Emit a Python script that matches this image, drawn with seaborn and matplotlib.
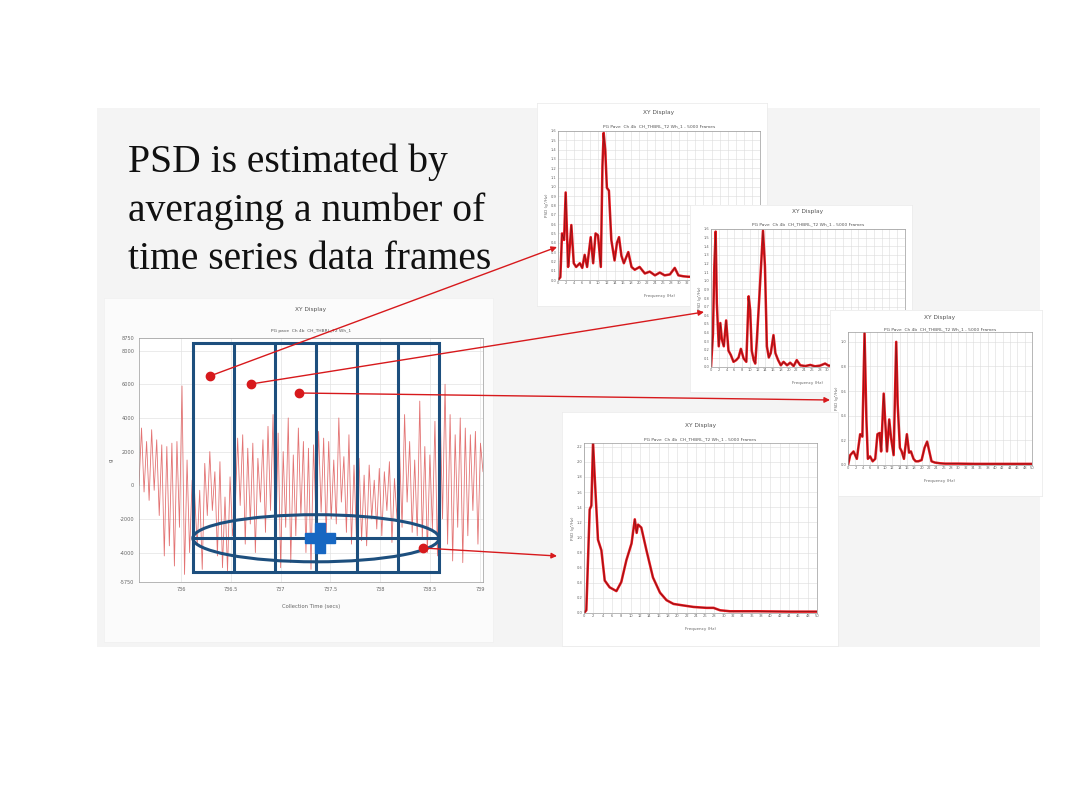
import numpy as np
import matplotlib
matplotlib.use("Agg")
import matplotlib.pyplot as plt
from matplotlib.patches import Rectangle, Ellipse
import seaborn as sns

# ---- data ----
# time series (peaks / troughs of the acceleration trace), sampled evenly between t_start and t_end
t_start, t_end = 735.58, 739.03
amplitude = [
    0, 3400, -400, 2600, -900, 3300, -300, 2700, -1800, 2400, -4200, 2300, -3600, 2500, -4800, 2600,
    -2500, 5900, -5300, 1500, -4000, 300,
    -500, -3600, -300, -5000, 1300, -1800, 2000, -1500, 800, -4200, 1400, -4900, -700, -5100, 500, -3000, -1500,
    2800, -1200, 3000, -3500, 2200, -2300, 2500, -4000, 1600, -1000, 2700, -2800, 3500, -1500, 4200, -4000,
    3100, -4900, 2000, -2500, 4000, -4600, 1800, -3000, 3400, -1800, 2600, -4000, 2200, -5000, 2400, -2200,
    3200, -1600, 2800, -3000, 2600, -2000, 1500, -2300, 4000, -1000, 1700, -2800, 3000, -3500, 1200, -3300,
    1600, -3300, 600, -3600, 1200, -2000, 300, -2600, 1000, -3000, 800, -1500, 1400, -3400, 400, -2000,
    2200, -2500, 4200, -1000, 2600, -2800, 1500, -3000, 5000, -3200, 2300, -4000, 1800, -2600, 3800, -4200,
    5000, -2000, 6000, -3500, 4200, -4500, 3000, -2500, 4000, -4600, 3400, -3000, 3000, -1500, 3200, -3500,
    2500, 800,
]
# data frame boundaries (s) drawn over the time series
frame_edges = [736.12, 736.53, 736.94, 737.36, 737.77, 738.18, 738.59]

# single-frame PSDs
psd1_freq = [0, 0.58, 1.0, 1.5, 1.9, 2.5, 2.9, 3.3, 3.9, 4.5, 5.4, 6.0, 6.6, 7.2, 8.1, 8.7, 9.3, 9.9,
             10.6, 11.0, 11.3, 11.7, 12.1, 12.6, 13.2, 14.0, 14.6, 15.1, 15.7, 16.3, 17.4, 18.2, 19.0,
             20.2, 21.5, 22.7, 24.0, 25.2, 26.4, 27.7, 28.9, 29.8, 31.0, 32.2, 36, 40, 45, 50]
psd1_vals = [0, 0.03, 0.50, 0.43, 0.94, 0.14, 0.35, 0.59, 0.18, 0.14, 0.18, 0.13, 0.27, 0.14, 0.46, 0.18,
             0.50, 0.48, 0.14, 1.22, 1.58, 1.39, 0.99, 0.96, 0.43, 0.21, 0.40, 0.46, 0.26, 0.18, 0.30, 0.14,
             0.11, 0.14, 0.07, 0.09, 0.05, 0.08, 0.05, 0.06, 0.13, 0.05, 0.04, 0.035, 0.03, 0.03, 0.03, 0.03]

psd2_freq = [0, 0.5, 0.86, 1.2, 1.5, 2.0, 2.4, 2.8, 3.3, 3.9, 4.5, 5.1, 5.8, 6.5, 7.1, 7.7, 8.4, 9.1, 9.7,
             10.1, 10.5, 11.0, 11.4, 11.8, 12.3, 12.9, 13.4, 13.9, 14.4, 14.9, 15.4, 16.1, 16.6, 17.3, 18.0,
             18.7, 19.6, 20.4, 21.3, 22.1, 23.0, 24.3, 25.6, 26.8, 28.1, 29.4, 30.3, 35, 40, 45, 50]
psd2_vals = [0, 0.38, 1.17, 1.57, 0.74, 0.24, 0.51, 0.32, 0.24, 0.54, 0.19, 0.14, 0.06, 0.08, 0.11, 0.21,
             0.10, 0.06, 0.82, 0.66, 0.19, 0.08, 0.04, 0.30, 0.69, 1.17, 1.58, 1.17, 0.24, 0.11, 0.16, 0.37,
             0.16, 0.08, 0.02, 0.06, 0.02, 0.05, 0.011, 0.08, 0.02, 0.011, 0.024, 0.008, 0.016, 0.04, 0.016,
             0.013, 0.013, 0.01, 0.01]

psd3_freq = [0, 0.6, 1.5, 2.4, 3.3, 3.9, 4.5, 5.0, 5.4, 6.0, 6.7, 7.4, 8.0, 8.6, 9.0, 9.7, 10.1, 10.6,
             11.2, 11.7, 12.4, 13.1, 13.5, 14.1, 14.6, 15.2, 16.0, 16.6, 17.1, 17.8, 18.4, 19.1, 20.0, 20.8,
             21.5, 22.1, 22.7, 23.6, 25.0, 26.4, 30, 34.5, 39, 43.5, 48, 50]
psd3_vals = [0, 0.08, 0.11, 0.05, 0.25, 0.23, 1.07, 0.37, 0.05, 0.07, 0.03, 0.05, 0.25, 0.26, 0.11, 0.58,
             0.36, 0.11, 0.37, 0.22, 0.08, 1.0, 0.49, 0.14, 0.11, 0.05, 0.25, 0.10, 0.11, 0.05, 0.03, 0.03,
             0.04, 0.14, 0.19, 0.11, 0.03, 0.02, 0.014, 0.011, 0.011, 0.009, 0.009, 0.009, 0.009, 0.009]

# averaged PSD
psd_avg_freq = [0, 0.5, 1.22, 1.58, 1.94, 2.3, 3.0, 3.73, 4.45, 5.5, 6.96, 8.0, 9.1, 10.2, 10.9, 11.3,
                11.6, 12.3, 13.4, 14.8, 16.3, 17.7, 19.2, 21.3, 23.5, 26.3, 27.8, 29.2, 31.3, 37.1, 44.3, 50]
psd_avg_vals = [0, 0.036, 1.37, 1.42, 2.25, 1.8, 0.97, 0.83, 0.43, 0.34, 0.29, 0.41, 0.70, 0.92, 1.24,
                1.06, 1.17, 1.13, 0.83, 0.47, 0.27, 0.17, 0.12, 0.10, 0.08, 0.068, 0.068, 0.036, 0.023,
                0.023, 0.018, 0.018]

headline = ["PSD is estimated by", "averaging a number of", "time series data frames"]

W, H = 1080, 810
RED = "#d7191c"
NAVY = "#1d4f7e"

sns.set_theme(style="white")
plt.rcParams['font.family'] = ['DejaVu Sans']


def px_rect(x0, y0, x1, y1):
    return [x0 / W, 1 - y1 / H, (x1 - x0) / W, (y1 - y0) / H]


def add_card(fig, box, z, color="white", edge="#ececec"):
    c = fig.add_axes(px_rect(*box))
    c.set_facecolor(color)
    c.set_xticks([])
    c.set_yticks([])
    for s in c.spines.values():
        s.set_color(edge)
        s.set_linewidth(0.6)
    c.set_zorder(z)
    return c


def headers(ax, title, subtitle, t_off, s_off):
    ax.annotate(title, (0.5, 1), xycoords="axes fraction", xytext=(0, t_off * 0.72),
                textcoords="offset points", ha="center", va="center", fontsize=4.2, color="#555555")
    ax.annotate(subtitle, (0.5, 1), xycoords="axes fraction", xytext=(0, s_off * 0.72),
                textcoords="offset points", ha="center", va="center", fontsize=3.2, color="#555555")


def psd_panel(fig, box, z, freq, vals, ytop, ystep, t_off, s_off):
    ax = fig.add_axes(px_rect(*box))
    ax.set_zorder(z)
    ax.set_facecolor("white")
    sns.lineplot(x=freq, y=vals, ax=ax, color="#e8151c", lw=1.8, legend=False)
    sns.lineplot(x=freq, y=vals, ax=ax, color="#7d1518", lw=0.5, legend=False)
    ax.set_xlim(0, 50)
    ax.set_ylim(0, ytop)
    ax.set_xticks(np.arange(0, 51, 2))
    ax.set_yticks(np.arange(0, ytop + 1e-9, ystep))
    ax.set_xticklabels([str(v) for v in range(0, 51, 2)])
    ax.set_yticklabels([f"{v:.1f}" for v in np.arange(0, ytop + 1e-9, ystep)])
    ax.tick_params(labelsize=2.6, colors="#666666", length=1.5, width=0.4, pad=1, direction="in")
    ax.grid(True, color="#dcdcdc", lw=0.4)
    for s in ax.spines.values():
        s.set_color("#9a9a9a")
        s.set_linewidth(0.5)
    ax.set_xlabel("Frequency (Hz)", fontsize=3, color="#666666", labelpad=6)
    ax.set_ylabel("PSD (g\u00b2/Hz)", fontsize=3, color="#666666", labelpad=1)
    headers(ax, "XY Display", "PG Pave  Ch 4b  CH_THBRL_T2 Wh_1 - 5000 Frames", t_off, s_off)
    return ax


fig = plt.figure(figsize=(10.8, 8.1), dpi=100)

# slide background
bg = fig.add_axes([0, 0, 1, 1])
bg.set_xlim(0, W)
bg.set_ylim(H, 0)
bg.axis("off")
bg.add_patch(Rectangle((97, 108), 943, 539, color="#f4f4f4", lw=0))
bg.set_zorder(0)

# ---- main time series ----
add_card(fig, (104, 298, 493, 642), 1, color="#fbfbfb", edge="#f1f1f1")
ax = fig.add_axes(px_rect(139, 338, 483, 582))
ax.set_zorder(1.5)
ax.set_facecolor("white")
time_s = np.linspace(t_start, t_end, len(amplitude))
sns.lineplot(x=time_s, y=amplitude, ax=ax, color="#de5a5a", lw=0.6, alpha=0.85, legend=False)
ax.set_xlim(t_start, t_end)
ax.set_ylim(-5750, 8750)
ax.set_xticks([736, 736.5, 737, 737.5, 738, 738.5, 739])
ax.set_xticklabels(["736", "736.5", "737", "737.5", "738", "738.5", "739"])
ax.set_yticks([-5750, -4000, -2000, 0, 2000, 4000, 6000, 8000, 8750])
ax.set_yticklabels(["-5750", "-4000", "-2000", "0", "2000", "4000", "6000", "8000", "8750"])
ax.minorticks_on()
ax.tick_params(which="both", labelsize=3.6, colors="#666666", direction="in", width=0.4)
ax.tick_params(which="major", length=3)
ax.tick_params(which="minor", length=1.5)
ax.grid(True, which="major", color="#e3e3e3", lw=0.5)
for s in ax.spines.values():
    s.set_color("#9a9a9a")
    s.set_linewidth(0.5)
ax.set_xlabel("Collection Time (secs)", fontsize=3.8, color="#666666", labelpad=9)
ax.set_ylabel("g", fontsize=4, color="#666666", labelpad=4)
headers(ax, "XY Display", "PG pave  Ch 4b  CH_THBRL_T2 Wh_1", 29, 7)

# frames, averaging ellipse and plus sign
f0, f1 = frame_edges[0], frame_edges[-1]
ax.add_patch(Rectangle((f0, -5150), f1 - f0, 13600, fill=False, ec=NAVY, lw=2.2, zorder=5))
for e in frame_edges[1:-1]:
    ax.plot([e, e], [-5150, 8450], color=NAVY, lw=2.2, zorder=5)
ax.add_patch(Ellipse(((f0 + f1) / 2, -3150), f1 - f0, 2800, fill=False, ec=NAVY, lw=2.2, zorder=5))
ax.plot([f0, f1], [-3150, -3150], color=NAVY, lw=2.2, zorder=5)
ax.plot([737.40], [-3150], marker="P", ms=22, color="#1767c2", mec="#1767c2", zorder=6)

# ---- PSD panels ----
add_card(fig, (537, 103, 767, 306), 2)
psd_panel(fig, (558, 131, 760, 280), 2.5, psd1_freq, psd1_vals, 1.6, 0.1, 18, 5)
add_card(fig, (690, 205, 912, 392), 3)
psd_panel(fig, (711, 229, 905, 367), 3.5, psd2_freq, psd2_vals, 1.6, 0.1, 17, 5)
add_card(fig, (830, 310, 1042, 496), 4)
psd_panel(fig, (848, 332, 1032, 465), 4.5, psd3_freq, psd3_vals, 1.08, 0.2, 15, 3)
add_card(fig, (562, 412, 838, 646), 5)
psd_panel(fig, (584, 443, 817, 613), 5.5, psd_avg_freq, psd_avg_vals, 2.25, 0.2, 18, 4)

# ---- overlay: headline and arrows ----
ov = fig.add_axes([0, 0, 1, 1])
ov.set_xlim(0, W)
ov.set_ylim(H, 0)
ov.axis("off")
ov.set_zorder(10)
for line, base in zip(headline, [172, 221, 269]):
    ov.text(128, base, line, fontsize=28.5, family=["Liberation Serif", "DejaVu Serif"],
            color="#111111", va="baseline", ha="left")

links = [((210, 376), (557, 247)), ((251, 384), (704, 312)),
         ((299, 393), (830, 400)), ((423, 548), (557, 556))]
for (sx, sy), (ex, ey) in links:
    ov.annotate("", xy=(ex, ey), xytext=(sx, sy),
                arrowprops=dict(arrowstyle="-|>", color=RED, lw=1.0, mutation_scale=8,
                                shrinkA=0, shrinkB=0))
    ov.plot([sx], [sy], marker="o", ms=6, color=RED, mec=RED)

fig.savefig("out.png", dpi=100)
